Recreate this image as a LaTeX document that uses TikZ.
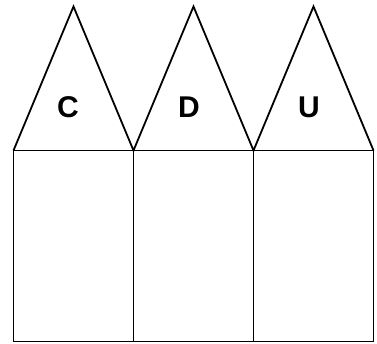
\documentclass[tikz,border=0pt]{standalone}
\usepackage{fontspec}
\setmainfont{Liberation Sans}
\begin{document}
\begin{tikzpicture}[x=1pt,y=-1pt,line width=1.8pt,line join=miter,
  lbl/.style={font=\bfseries\fontsize{30}{31}\selectfont,inner sep=0pt,anchor=center}]
\useasboundingbox (0,0) rectangle (377,343);
\coordinate (b0) at (13.5,150.5);
\coordinate (b1) at (133.5,150.5);
\coordinate (b2) at (253.5,150.5);
\coordinate (b3) at (373.5,150.5);
\coordinate (a1) at (73.5,6.5);
\coordinate (a2) at (193.5,6.5);
\coordinate (a3) at (313.5,6.5);
\coordinate (f0) at (13.5,341.5);
\coordinate (f1) at (133.5,341.5);
\coordinate (f2) at (253.5,341.5);
\coordinate (f3) at (373.5,341.5);
\draw (b0) -- (a1) -- (b1) -- (a2) -- (b2) -- (a3) -- (b3);
\draw (b0) rectangle (f1);
\draw (b1) rectangle (f2);
\draw (b2) rectangle (f3);
\node[lbl] (c) at (68,107.5) {C};
\node[lbl] (d) at (189,107.5) {D};
\node[lbl] (u) at (309,107.5) {U};
\end{tikzpicture}
\end{document}
